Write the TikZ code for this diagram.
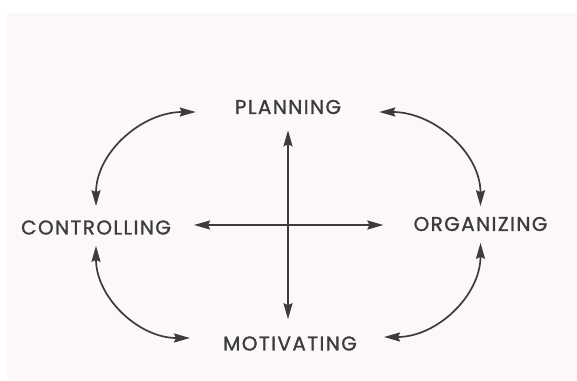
\documentclass[tikz,border=0pt]{standalone}
\usepackage{fontspec}
\newfontfamily\labelfont[LetterSpace=7,FakeBold=1.2]{Poppins}
\usetikzlibrary{arrows.meta}
\definecolor{paper}{RGB}{251,247,250}
\definecolor{ink}{RGB}{60,60,60}
\begin{document}
\begin{tikzpicture}[x=1pt,y=1pt,
    func/.style={font=\labelfont\fontsize{20}{22}\selectfont, text=ink, inner sep=0pt},
    link/.style={{Stealth[length=16pt,width=9pt,inset=2pt]}-{Stealth[length=16pt,width=9pt,inset=2pt]}, ink, line width=1.7pt}
]
    % page
    \fill[white] (0,0) rectangle (577,380);
    \fill[paper] (7,0) rectangle (577,367);
    \useasboundingbox (0,0) rectangle (577,380);
    % the four functions
    \node[func] (plan)  at (288,273)   {PLANNING};
    \node[func] (ctrl)  at (96,152.5)  {CONTROLLING};
    \node[func] (org)   at (480.5,156) {ORGANIZING};
    \node[func] (motiv) at (290,36.5)  {MOTIVATING};
    % cross in the middle
    \coordinate (hub) at (288,155);
    \draw[link, shorten <=16pt, shorten >=17pt] (hub |- plan.south) -- (hub |- motiv.north);
    \draw[link, shorten <=23pt, shorten >=30pt] (hub -| ctrl.east) -- (hub -| org.west);
    % ends of the curved links
    \coordinate (pl-w) at ([xshift=-39pt,yshift=-5pt]plan.west);
    \coordinate (pl-e) at ([xshift=38pt,yshift=-5pt]plan.east);
    \coordinate (ct-n) at ([yshift=14pt]ctrl.north);
    \coordinate (ct-s) at ([yshift=-11pt]ctrl.south);
    \coordinate (or-n) at ([yshift=10.5pt]org.north);
    \coordinate (or-s) at ([yshift=-11.5pt]org.south);
    \coordinate (mo-w) at ([xshift=-33pt,yshift=5.5pt]motiv.west);
    \coordinate (mo-e) at ([xshift=27pt,yshift=6.5pt]motiv.east);
    % curved links round the outside
    \draw[link] (pl-w) to[out=180, in=90] (ct-n);
    \draw[link] (pl-e) to[out=0, in=90] (or-n);
    \draw[link] (ct-s) to[out=-90, in=180] (mo-w);
    \draw[link] (or-s) to[out=-90, in=0] (mo-e);
\end{tikzpicture}
\end{document}
